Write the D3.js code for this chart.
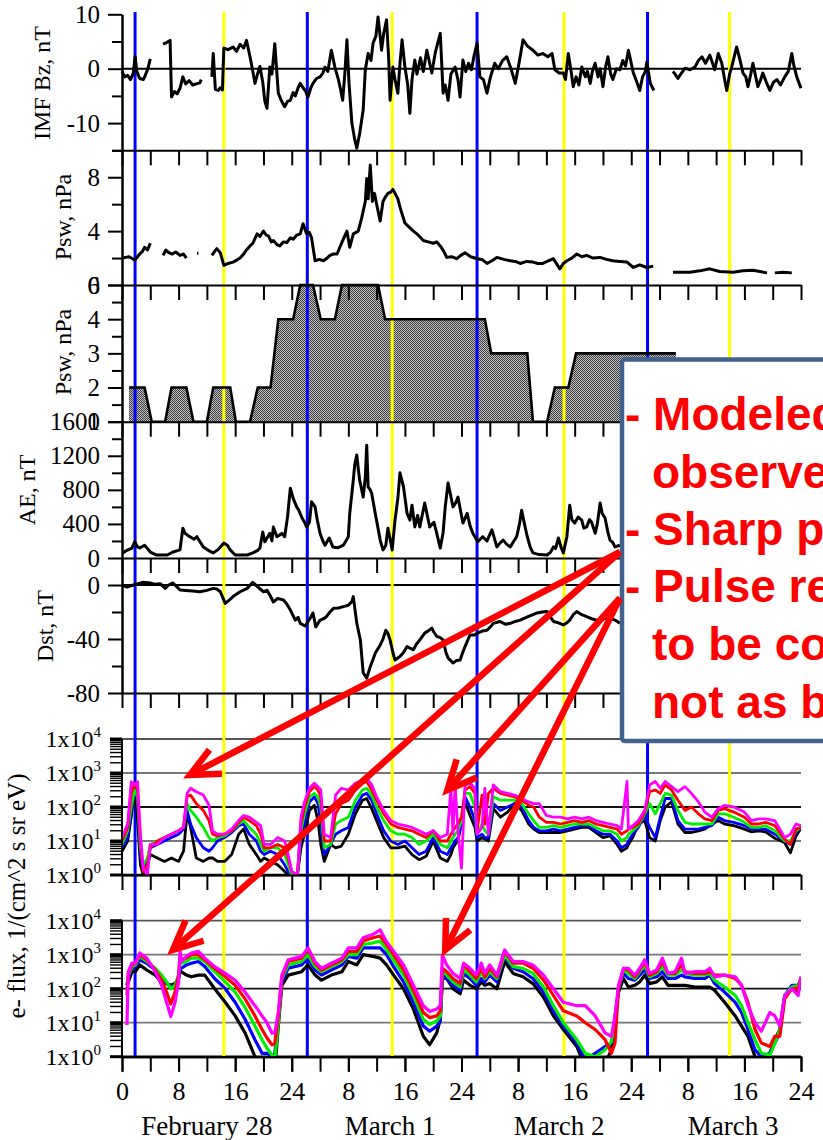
<!DOCTYPE html>
<html>
<head>
<meta charset="utf-8">
<script src="https://cdn.jsdelivr.net/npm/d3@7"></script>
<style>
  body { margin: 0; background: #fff; }
  svg { display: block; }
  text { font-family: "Liberation Serif", "Times New Roman", serif; fill: #000; }
  .axis text { font-size: 25px; font-family: "Liberation Serif", "Times New Roman", serif; }
  .axis path, .axis line { stroke: #000; stroke-width: 2; }
  .note { font-family: "Liberation Sans", Arial, sans-serif; font-weight: bold; font-size: 46px; fill: #ff0000; }
</style>
</head>
<body>
<svg id="chart" width="823" height="1140"></svg>
<script>
// ---- data ----
// hours from Feb 28 00 UT
const blueHours = [1.85, 26.2, 50.2, 74.3];
const yellowHours = [14.4, 38.2, 62.5, 85.9];
const dayLabels = ["February 28", "March 1", "March 2", "March 3"];
const dayLabelHours = [12, 37.9, 61.8, 86.4];

// IMF Bz, nT  (null = data gap)
const bz = [
  [0,-0.5],[0.4,-1.5],[0.8,-1.2],[1.2,-2],[1.6,-0.8],[1.85,2.2],[2.1,-0.5],[2.5,-1.8],[3,-2],[3.3,-1.2],[3.7,0.2],[4.0,1.8],
  null,
  [5.8,4.5],[6.3,4.8],[6.8,5.2],[7.0,-5.2],[7.4,-4.2],[7.8,-4.6],[8.2,-3.6],[8.6,-1.5],[9.0,-2.8],[9.5,-2.2],[10,-3],[10.5,-2.8],[11,-2.6],[11.2,-2],
  null,
  [12.7,-1.5],[12.9,2.8],[13.2,-3.8],[13.6,-4],[13.9,-3.5],[14.2,-3.9],[14.4,3.8],[15,3.5],[15.7,4],[16.2,3.2],[16.7,4.5],[17.2,3.8],[17.6,5.2],
  [18.1,2.2],[18.5,-0.5],[18.8,-2.7],[19.2,-0.8],[19.5,0.4],[19.9,-2.5],[20.2,-6],[20.5,-7.3],[20.9,0.3],[21.2,-1],[21.6,4.6],[22.1,-4.5],
  [22.5,-5.8],[23,-7],[23.4,-6],[23.8,-5.8],[24.2,-4.4],[24.5,-5],[24.9,-3.5],[25.2,-2.7],[25.6,-3.5],[25.9,-4],[26.3,-5.2],[26.7,-3.5],
  [27,-2.7],[27.5,-1.8],[28,-1.5],[28.4,-0.8],[28.7,0.3],[29.1,-0.5],[29.6,3.4],[30.1,0.3],[30.6,-2],[30.9,-3.8],[31.2,-5.8],[31.5,-1],
  [31.8,5.3],[32.1,-2.7],[32.5,-10],[32.9,-13],[33.2,-14.6],[33.6,-11.9],[34.1,-7.6],[34.4,-0.2],[34.8,2.8],[35.2,1.5],[35.5,4.7],[35.9,6],
  [36.2,9.5],[36.5,6],[36.7,3.4],[37.0,6.5],[37.4,9],[37.7,2],[37.9,-5.8],[38.3,0.3],[38.6,-2],[39,-4.5],[39.3,1],[39.6,5.3],[40,0.3],
  [40.4,-3],[40.7,-8.2],[41.0,-2],[41.4,1.6],[41.7,-1],[42.2,2],[42.6,-0.5],[43.1,3.4],[43.5,1],[43.8,-0.8],[44.3,3],[44.7,5],[45,6.5],
  [45.4,-4.5],[45.7,-3],[46.1,-5.8],[46.5,-1],[47.1,0.3],[47.5,-2],[47.8,-5.2],[48.2,1.6],[48.6,-0.5],[49,1],[49.4,-0.2],[49.8,2.5],
  [50.2,4.7],[50.6,-1.5],[51.1,-2],[51.6,-4.5],[52.1,-1.5],[52.7,1],[53.2,0],[53.8,1.5],[54.4,2.2],[55,0],[55.6,-2.7],[56.2,1.5],
  [56.7,5.3],[57.3,4.2],[58.1,3.4],[58.8,2.5],[59.5,2.8],[60.2,2.2],[60.8,2.8],[61.2,-0.2],[61.8,-0.8],[62.4,-0.8],[62.7,-2],[63.1,2.8],
  [63.5,-0.5],[63.8,-3.3],[64.2,-1.5],[64.6,-3],[65,0.3],[65.5,-1.5],[65.8,-0.5],[66.2,-2.7],[66.5,-0.5],[66.9,1],[67.3,-1.5],[67.6,0],
  [68,-3.3],[68.4,0.5],[68.7,2.2],[69.1,-1],[69.4,-2],[69.9,0],[70.4,-0.2],[70.8,1.5],[71.2,0.5],[71.6,3.4],[72,1],[72.3,-0.8],
  [72.8,-2.5],[73.2,-4],[73.6,-1.5],[74.0,-0.5],[74.2,1.2],[74.7,-2.7],[75.2,-4],
  null,
  [77.9,-0.5],[78.3,-1.2],[78.6,-1.8],[79.1,-0.8],[79.6,0.1],[80.3,-0.2],[81,0.3],[81.5,1.5],[82,2.2],[82.5,1],[83.1,2.5],[83.5,1],
  [83.8,-0.2],[84.3,2.8],[84.8,1],[85.2,-2],[85.5,-4],[85.9,-1],[86.2,0.3],[86.9,4],[87.3,2],[87.8,-0.8],[88.2,-1.5],[88.5,-3.3],
  [88.9,-1],[89.2,1],[89.6,-1.5],[89.9,-3.3],[90.3,-2],[90.6,-0.8],[91.1,-2.5],[91.6,-4],[92.1,-2.5],[92.6,-2],[93.1,-3],[93.7,-1.5],
  [94.2,-0.5],[94.7,2.8],[95,0.5],[95.4,-1.5],[96,-3.6]
];

// Psw, nPa (observed)
const psw = [
  [0,2.0],[0.5,2.05],[1,2.1],[1.5,1.95],[1.8,1.85],[2.2,2.1],[2.5,2.3],[2.9,2.5],[3.2,2.8],[3.6,2.6],[4,3.1],
  null,
  [5.8,2.2],[6.2,2.6],[6.6,2.4],[7.1,2.3],[7.6,2.45],[8.2,2.2],[8.7,2.3],[9.1,2.0],
  null,
  [10.6,2.35],[10.8,2.35],
  null,
  [12.7,2.2],[13.1,2.5],[13.4,2.7],[13.9,2.4],[14.4,1.45],[15,1.6],[15.7,1.7],[16.2,1.85],[16.7,2.0],[17.2,2.3],[17.6,2.6],[18.1,2.9],
  [18.5,3.1],[19.1,3.8],[19.5,3.6],[20,4.0],[20.4,3.7],[20.7,3.65],[21.1,3.2],[21.4,3.3],[21.9,3.0],[22.3,2.9],[22.8,3.2],[23.3,3.15],
  [23.8,3.5],[24.2,3.4],[24.7,3.7],[25.2,3.8],[25.6,4.55],[26.1,3.8],[26.5,3.9],[26.8,3.5],[27.3,1.8],[27.9,1.9],[28.5,1.8],[29,2.0],
  [29.4,2.2],[29.9,2.3],[30.4,2.3],[30.8,2.8],[31.2,3.3],[31.8,4.0],[32.2,2.8],[32.7,3.8],[33.4,4.0],[33.9,5.0],[34.4,6.2],[34.6,7.9],
  [34.8,6.4],[35.1,8.9],[35.4,6.2],[35.7,6.8],[36,6.0],[36.5,4.75],[36.9,6.2],[37.2,6.5],[37.6,6.8],[38,6.9],[38.3,7.1],[39,6.4],
  [39.4,5.6],[40,4.6],[40.6,4.3],[41.2,4.0],[41.9,3.7],[42.6,3.3],[43.3,3.2],[44,3.1],[44.5,3.2],[45,2.9],[45.5,2.5],[45.9,2.05],
  [46.6,2.1],[47.3,1.95],[47.9,2.2],[48.5,2.4],[49.3,2.1],[50.2,1.95],[50.9,1.9],[51.6,1.6],[52.3,1.8],[53,2.05],[54,1.9],[54.9,1.8],
  [55.6,1.75],[56.3,1.6],[57.2,1.75],[58.1,1.7],[58.8,1.6],[59.5,1.6],[60.3,1.8],[61,1.95],[61.9,1.2],[62.4,1.6],[62.9,1.8],[63.6,2.0],
  [64.3,2.3],[65,2.1],[65.7,2.2],[66.6,2.0],[67.6,2.05],[68.5,1.9],[69.4,1.8],[70.4,1.75],[71.4,1.7],[72.3,1.3],[73.2,1.5],[74.2,1.3],[75.1,1.4],
  null,
  [77.9,0.95],[79,0.95],[80.3,0.95],[81.7,1.05],[83.1,1.2],[84.5,1.0],[86.4,0.95],[87.8,1.05],[89.2,1.1],[90.2,1.0],[91.2,0.9],
  null,
  [92.3,0.9],[93.5,0.95],[94.7,0.9]
];

// Psw step input of the model: [hour, level]
const pswModel = [
  [1.0,2],[3.2,2],[4.2,1],[6.1,1],[7.0,2],[9.1,2],[10.1,1],[12,1],[12.9,2],[15.3,2],[16.1,1],[18.1,1],[19.2,2],[21,2],
  [22.1,4],[24.2,4],[25.2,5],[27,5],[28.1,4],[30.1,4],[31.1,5],[36.2,5],[37.2,4],[51.3,4],[52.2,3],[57.3,3],[58.1,1],
  [60.1,1],[61.2,2],[63.1,2],[64.2,3],[78.3,3]
];
const pswModelTicks = [1, 2, 3, 4, 5];
const pswModelTickText = ["1", "2", "3", "4", "6"];

// AE, nT
const ae = [
  [0.1,60],[0.7,90],[1.4,117],[1.8,190],[2.2,130],[2.5,117],[3.2,150],[3.6,110],[4,70],[4.9,35],[5.6,35],[6.4,35],[7.2,70],[8.2,95],
  [8.6,350],[8.9,290],[9.4,260],[9.9,235],[10.2,220],[10.6,250],[11.1,180],[11.5,130],[12.2,90],[12.9,60],[13.6,100],[14.4,175],
  [14.9,150],[15.3,95],[16,35],[16.8,35],[17.7,35],[18.5,60],[19.2,90],[19.5,117],[19.9,305],[20.2,190],[20.5,235],[20.9,290],
  [21.2,200],[21.4,365],[21.9,250],[22.3,270],[22.6,290],[23,250],[23.4,480],[23.8,820],[24,760],[24.2,700],[24.7,600],[25,560],
  [25.4,480],[25.8,420],[26.1,365],[26.5,420],[26.8,660],[27.3,600],[27.6,450],[28,290],[28.4,200],[28.7,150],[29.3,235],[29.8,130],
  [30.5,120],[31.3,150],[32,250],[32.2,525],[32.7,915],[32.9,1090],[33.2,1210],[33.4,1050],[33.6,915],[34.1,715],[34.4,950],
  [34.6,1325],[34.8,835],[35.1,800],[35.3,760],[35.8,525],[36.2,350],[36.5,210],[36.9,95],[37.3,150],[37.6,350],[38.2,95],[38.6,445],
  [39,700],[39.3,1000],[39.8,835],[40.3,525],[40.7,445],[41,620],[41.4,365],[41.8,500],[42.1,365],[42.8,645],[43.5,365],[44.1,420],
  [44.5,290],[45,117],[45.4,300],[45.7,600],[46.1,880],[46.8,600],[47.2,650],[47.5,715],[48.2,410],[48.8,525],[49.2,380],[49.6,290],
  [50.3,190],[51,250],[51.6,200],[52.3,330],[53,130],[53.5,180],[53.9,210],[54.4,160],[54.9,130],[55.4,200],[55.8,250],[56.2,400],
  [56.5,560],[56.9,400],[57.3,250],[57.7,130],[58.1,60],[59,40],[60.1,35],[60.6,70],[61,130],[61.3,110],[61.7,235],[62.1,120],
  [62.4,60],[62.9,250],[63.3,620],[63.6,450],[64,410],[64.5,480],[65,445],[65.3,350],[65.7,365],[66.1,450],[66.4,420],[66.9,290],
  [67.2,400],[67.6,645],[67.9,520],[68.3,470],[68.7,300],[69,210],[69.4,180],[69.7,130],[70.4,150]
];

// Dst, nT
const dst = [
  [0,0],[0.7,-1.5],[1.6,0],[2.3,1],[3,2],[4,1.5],[4.7,0.5],[5.4,1],[6.1,-2.5],[6.6,0],[7.2,1.5],[7.7,-1],[8.2,-3.7],[9,-4],[10,-4.5],
  [11,-5],[12,-4],[12.9,-2.5],[13.4,-3],[13.9,-5],[14.6,-13.6],[15.2,-11],[15.7,-8.6],[16.7,-5],[17.7,-2.5],[18.5,2],[19.2,-1.5],
  [20,-5],[20.5,-4],[20.9,-7.4],[21.4,-12.6],[22,-10],[22.8,-11],[23.3,-14],[23.8,-18.5],[24.5,-26],[24.9,-24],[25.2,-28.4],
  [25.9,-30.4],[26.3,-27],[26.6,-24.7],[27,-20.7],[27.4,-31],[28,-26],[28.5,-25],[28.9,-23.5],[29.4,-20],[29.9,-17.3],[30.6,-17],
  [31.3,-16],[32,-15],[32.5,-12.3],[32.7,-8.6],[33.2,-28.4],[33.7,-40.7],[34.1,-65],[34.6,-69],[35.1,-60.5],[35.5,-55],[35.8,-50.6],
  [36.2,-47],[36.5,-44.6],[36.9,-40],[37.3,-33.5],[37.6,-36],[37.9,-40.7],[38.3,-50],[38.6,-55.6],[39.3,-53],[39.8,-50],[40.3,-45.6],
  [40.8,-47],[41.2,-48],[41.6,-44],[42.1,-40.7],[42.8,-35.6],[43.3,-34],[43.8,-31.9],[44.1,-35],[44.5,-38],[45,-39],[45.4,-40.7],
  [45.8,-50],[46.1,-54],[46.8,-57.8],[47.3,-56],[47.8,-55.6],[48.1,-51],[48.5,-45.6],[49.2,-37],[49.8,-37],[50.3,-35.6],[51,-34],
  [51.6,-33.5],[52.1,-31],[52.5,-28.4],[53.4,-27],[54.2,-29],[54.9,-28.4],[55.6,-27],[56.3,-26],[57.4,-23.5],[58.1,-22],[58.7,-20.7],
  [59.4,-20],[60.1,-19.7],[60.6,-24],[61,-27],[61.7,-28],[62.4,-29.6],[62.9,-28],[63.3,-26],[63.8,-22],[64.3,-19.7],[65,-22],
  [65.7,-23.5],[66.4,-25],[67.1,-26],[67.8,-25],[68.6,-24.7],[69.2,-25],[69.7,-26],[70.4,-28.4]
];

// e- flux, observed (upper panel), log10 values
const flux1Hours = [
  0,0.8,1.3,1.8,2.2,2.6,3,3.6,4,5, 6,7,8,8.7,9.2,9.7,10.5,11.5,12.3,12.8,
  13.5,14.5,15.5,16.5,17.2,18,19,19.6,20.1,21, 22,23,23.5,24,24.8,25.3,25.8,26.5,27.2,27.7,
  28.1,28.6,29.5,30.2,31,32,33,34,34.6,35.3, 36,37,38,39,40,41,42,43,44,45,
  46,46.5,46.8,47.1,47.5,48,48.5,49.2,49.9,50.2, 50.9,51.3,51.8,52.5,53.5,54.5,55.5,56.5,57.5,58.2,
  59,60,61,62,63,64,65,66,67,68, 69,70,70.6,71.4,71.6,72.2,73,73.9,74.6,75.4,
  76.1,76.8,77.7,78.6,79.6,80.5,81.5,82.4,83.4,84.3, 85.2,86.5,88,89,90,91,92.3,93.7,94.5,95.3,96
];
const flux1Black = [
  0.7,1.0,1.7,2.5,1.6,0.3,0.0,0.3,0.6,0.5, 0.4,0.5,0.4,0.7,1.8,1.4,0.5,0.4,0.5,0.5,
  0.4,0.4,0.6,1.2,1.35,0.9,0.6,0.4,0.5,0.4, 0.3,0.1,0.0,0.0,0.0,0.8,1.2,1.9,2.05,1.6,
  0.9,0.4,0.9,0.8,0.85,1.2,1.8,2.2,2.25,1.95, 1.6,1.1,0.8,0.8,0.85,0.6,0.45,0.55,1.0,0.5,
  0.4,0.6,0.8,0.9,1.0,1.55,2.15,1.75,1.4,1.0, 1.1,1.05,1.0,1.95,1.7,1.85,2.1,1.9,1.5,1.35,
  1.25,1.25,1.25,1.25,1.3,1.35,1.4,1.4,1.25,1.1, 1.15,0.9,0.7,0.8,0.9,1.1,1.5,1.6,1.1,1.0,
  1.6,2.0,2.15,1.5,1.25,1.25,1.3,1.35,1.5,1.6, 1.5,1.45,1.35,1.27,1.3,1.27,1.08,0.95,0.65,1.15,1.38
];
const flux1Blue = [
  0.8,1.1,1.8,2.6,2.1,0.6,0.1,0.4,0.8,0.9, 1.0,1.1,1.2,1.35,1.9,1.5,1.1,0.8,0.7,0.8,
  1.0,1.1,1.25,1.45,1.5,1.2,1.0,0.7,0.6,0.7, 0.6,0.3,0.1,0.0,0.0,1.0,1.5,2.15,2.3,2.1,
  1.5,0.6,0.9,1.2,1.3,1.4,2.0,2.35,2.4,2.2, 1.8,1.3,1.0,0.9,1.0,0.8,0.6,0.7,1.1,0.7,
  0.6,0.8,0.9,1.0,1.1,1.5,2.3,2.0,1.6,1.1, 1.2,1.1,1.1,2.1,1.9,2.0,2.1,2.0,1.6,1.4,
  1.3,1.3,1.35,1.3,1.35,1.4,1.45,1.45,1.3,1.2, 1.2,1.0,0.8,0.9,1.0,1.2,1.4,1.75,1.4,1.1,
  1.7,2.25,2.25,1.6,1.35,1.35,1.35,1.4,1.45,1.7, 1.6,1.55,1.45,1.35,1.35,1.35,1.2,1.0,0.9,1.25,1.4
];
const flux1Green = [
  0.9,1.3,2.0,2.5,2.3,0.8,0.3,0.5,0.9,1.0, 1.1,1.2,1.3,1.4,2.1,1.9,1.7,1.4,1.1,1.0,
  1.1,1.15,1.3,1.5,1.6,1.4,1.2,0.9,0.7,0.8, 0.8,0.6,0.3,0.0,0.0,1.3,1.8,2.3,2.4,2.3,
  2.0,0.8,0.9,1.5,1.6,1.7,2.2,2.5,2.55,2.35, 2.0,1.6,1.3,1.2,1.2,1.1,0.9,1.0,1.2,0.9,
  0.8,1.0,1.1,1.2,1.3,1.6,2.4,2.4,2.0,1.2, 1.5,1.3,1.2,2.3,2.2,2.2,2.2,2.1,1.8,1.6,
  1.4,1.4,1.45,1.4,1.45,1.5,1.5,1.5,1.4,1.3, 1.3,1.2,1.0,1.1,1.2,1.3,1.45,1.8,2.1,1.8,
  2.1,2.4,2.35,1.9,1.55,1.5,1.5,1.5,1.5,1.8, 1.8,1.7,1.55,1.4,1.4,1.45,1.3,1.0,1.0,1.3,1.4
];
const flux1Red = [
  1.0,1.4,2.4,2.7,2.5,1.0,0.1,0.3,0.8,1.0, 1.1,1.2,1.3,1.4,2.3,2.35,2.1,1.9,1.6,1.2,
  1.15,1.2,1.3,1.55,1.7,1.6,1.45,1.2,0.8,0.8, 0.9,0.8,0.5,0.1,0.0,1.5,2.0,2.45,2.6,2.5,
  2.3,1.0,1.0,1.8,2.1,2.2,2.5,2.7,2.75,2.5, 2.2,1.8,1.5,1.4,1.35,1.3,1.2,1.1,1.3,1.0,
  1.0,1.2,1.3,1.4,1.5,1.7,2.5,2.6,2.4,1.3, 2.35,1.5,2.4,2.55,2.4,2.35,2.3,2.2,2.05,2.0,
  1.7,1.55,1.55,1.5,1.55,1.6,1.55,1.6,1.5,1.45, 1.4,1.35,1.2,1.3,1.35,1.4,1.5,1.85,2.45,2.5,
  2.4,2.65,2.5,2.2,1.9,2.0,1.8,1.65,1.6,1.9, 1.95,1.85,1.7,1.5,1.5,1.55,1.45,1.05,0.9,1.35,1.4
];
const flux1Magenta = [
  1.1,1.5,2.74,2.65,2.74,1.2,0.2,0.0,0.9,0.9, 1.1,1.2,1.3,1.4,2.4,2.55,2.45,2.35,2.05,1.3,
  1.2,1.2,1.35,1.6,1.75,1.7,1.55,1.45,0.9,0.9, 1.1,1.0,0.6,0.1,0.0,1.7,2.15,2.55,2.7,2.6,
  2.5,1.2,1.1,2.35,2.55,2.5,2.7,2.8,2.85,2.65, 2.3,1.9,1.6,1.5,1.45,1.4,1.3,1.2,1.3,1.1,
  1.2,2.55,1.2,2.65,1.3,0.2,2.65,2.7,2.55,1.2, 1.4,2.55,1.2,2.65,2.45,2.4,2.35,2.25,2.15,2.1,
  2.1,1.75,1.7,1.7,1.65,1.7,1.65,1.7,1.6,1.55, 1.5,1.45,1.35,2.75,1.35,1.45,1.6,1.9,2.65,2.75,
  2.55,2.75,2.6,2.45,2.6,2.4,2.15,1.85,1.7,1.95, 2.05,2.0,1.85,1.6,1.65,1.65,1.6,1.1,1.2,1.5,1.45
];

// e- flux, modeled (lower panel), log10 values
const flux2Hours = [
  0.7,0.9,1.4,1.9,2.5,3.5,4.7,5.6,6.3,6.9, 7.5,8.0,8.2,8.4,9.1,9.8,10.8,11.7,13.1,14.6,
  16,17.4,18.8,19.8,20.5,21.2,21.6,22.1,22.6,23.5, 25.4,26.3,27.3,28.2,29.6,31.1,32,33.2,34.1,35.5,
  36.5,37.4,38.4,39.8,41.2,42.6,43.5,44.5,45,45.3, 45.9,46.8,47.8,48.3,49.2,50.1,50.8,51.3,52,53,
  54.1,55.3,56.7,58.1,59.6,61,62.4,64.3,65.5,66.9, 68.3,69.2,69.7,70.2,70.9,71.6,72.5,73.2,73.9,74.6,
  75.6,76.4,77.2,78.2,79.1,79.6,81,82.4,83.1,83.8, 85.2,86.7,87.6,88.5,89.5,90.4,91.6,92.3,93,93.7,
  94.7,95.6,96
];
const flux2Black = [
  2.1,2.2,2.5,2.5,2.7,2.55,2.4,2.2,2.15,2.1, 2.15,2.3,2.5,2.5,2.4,2.35,2.4,2.4,2.0,1.6,
  1.2,0.7,0.0,-0.3,-0.5,-0.5,-0.4,0.9,2.1,2.4, 2.5,2.7,2.4,2.25,2.4,2.5,2.8,2.7,3.0,2.95,
  2.9,2.7,2.4,2.0,1.4,0.6,0.35,0.7,1.1,2.3, 2.3,2.0,1.85,2.25,2.1,2.0,2.2,2.1,2.15,2.0,
  2.8,2.45,2.35,2.15,1.75,1.2,0.8,0.3,-0.3,-0.3, -0.2,0.2,1.2,1.9,2.3,2.05,2.1,2.2,2.4,2.15,
  2.2,2.35,2.1,2.1,2.1,2.1,2.05,2.05,2.05,1.95, 1.6,1.2,0.9,0.6,0.0,-0.2,0.1,0.5,0.8,1.8,
  2.0,1.9,2.3
];
const flux2Blue = [
  2.1,2.35,2.6,2.65,2.85,2.75,2.55,2.35,2.15,2.05, 2.1,2.3,2.6,2.6,2.7,2.75,2.8,2.65,2.3,2.0,
  1.6,1.1,0.5,0.1,0.1,0.0,0.1,1.1,2.2,2.6, 2.7,2.9,2.55,2.4,2.55,2.7,2.95,2.9,3.2,3.2,
  3.2,3.0,2.65,2.2,1.6,0.9,0.75,0.9,1.05,2.4, 2.3,2.1,1.95,2.45,2.3,2.1,2.3,2.2,2.4,2.2,
  2.95,2.6,2.5,2.3,1.9,1.35,0.9,0.4,-0.1,0.1, 0.3,0.4,1.0,2.0,2.45,2.3,2.25,2.4,2.55,2.3,
  2.35,2.5,2.3,2.3,2.4,2.35,2.3,2.3,2.4,2.15, 1.9,1.6,1.3,0.8,0.2,0.0,0.1,0.4,0.7,1.8,
  2.1,2.1,2.3
];
const flux2Green = [
  2.0,2.4,2.65,2.7,2.95,2.8,2.6,2.4,2.2,2.0, 2.1,2.4,2.75,2.75,2.8,2.9,2.9,2.8,2.5,2.2,
  1.9,1.45,0.9,0.5,0.25,0.05,-0.1,1.0,2.3,2.7, 2.8,3.0,2.65,2.5,2.65,2.8,3.0,3.0,3.3,3.35,
  3.4,3.15,2.85,2.4,1.8,1.1,0.95,1.05,1.2,2.5, 2.4,2.2,2.05,2.55,2.4,2.2,2.5,2.3,2.5,2.3,
  3.0,2.65,2.6,2.45,2.05,1.5,1.0,0.5,0.1,0.0, 0.2,0.45,1.0,2.0,2.55,2.45,2.3,2.5,2.7,2.35,
  2.45,2.65,2.4,2.4,2.55,2.45,2.4,2.4,2.45,2.25, 2.05,1.8,1.5,1.0,0.5,0.1,0.05,0.4,0.8,1.8,
  2.05,2.1,2.3
];
const flux2Red = [
  1.8,2.45,2.7,2.75,3.0,2.85,2.55,2.25,1.9,1.55, 1.9,2.4,2.9,2.85,2.9,3.0,3.0,2.85,2.6,2.35,
  2.1,1.7,1.2,0.8,0.55,0.35,0.4,1.2,2.35,2.8, 2.9,3.15,2.75,2.55,2.7,2.85,3.1,3.1,3.4,3.5,
  3.55,3.3,3.0,2.55,1.95,1.3,1.15,1.2,1.35,2.6, 2.5,2.3,2.15,2.7,2.5,2.3,2.6,2.35,2.6,2.35,
  3.1,2.75,2.75,2.6,2.25,1.8,1.35,1.2,1.0,0.8, 0.5,0.1,0.4,2.0,2.6,2.55,2.35,2.55,2.8,2.4,
  2.5,2.8,2.45,2.45,2.7,2.5,2.45,2.45,2.5,2.4, 2.4,2.3,2.1,1.6,0.8,0.4,0.3,0.6,0.6,1.7,
  2.0,2.0,2.35
];
const flux2Magenta = [
  0.93,2.5,2.75,2.75,3.05,2.9,2.5,2.1,1.6,1.18, 1.6,2.2,3.14,2.8,2.95,3.05,3.1,2.9,2.65,2.45,
  2.25,1.9,1.5,1.2,1.0,0.69,0.7,1.3,2.4,2.85, 2.95,3.2,2.8,2.6,2.75,2.9,3.2,3.2,3.5,3.6,
  3.73,3.38,3.1,2.7,2.1,1.5,1.33,1.4,1.5,2.99, 2.7,2.45,2.3,2.75,2.6,2.4,2.75,2.45,2.7,2.4,
  3.14,2.8,2.8,2.7,2.4,2.0,1.6,1.5,1.5,1.2, 0.7,0.6,1.2,2.1,2.6,2.6,2.4,2.6,2.85,2.45,
  2.55,2.9,2.45,2.5,2.9,2.45,2.5,2.5,2.6,2.35, 2.4,2.35,2.1,1.5,1.0,0.75,1.3,1.2,0.9,1.8,
  2.0,1.8,2.35
];
const fluxColors = ["#000000", "#0000ff", "#00ee00", "#ff0000", "#ff00ff"];

const noteLines = [
  "- Modeled flux is close to the",
  "observed one",
  "- Sharp peaks are reproduced",
  "- Pulse response seems",
  "to be correct, but",
  "not as big as observed"
];

// ---- layout ----
const X0 = 122, X1 = 801;
const x = d3.scaleLinear().domain([0, 96]).range([X0, X1]);

const yBz  = d3.scaleLinear().domain([-15, 10]).range([150.3, 14.3]);
const yPsw = d3.scaleLinear().domain([0, 10]).range([285, 150.3]);
const yPsm = d3.scaleLinear().domain([1, 5]).range([421.7, 285]);
const yAe  = d3.scaleLinear().domain([0, 1600]).range([558, 421.7]);
const yDst = d3.scaleLinear().domain([-80, 20]).range([693, 558]);
const yF1  = d3.scaleLinear().domain([0, 4]).range([875, 739]);
const yF2  = d3.scaleLinear().domain([0, 4]).range([1056.7, 920.7]);

const svg = d3.select("#chart");
const defs = svg.append("defs");
const g = svg.append("g");

// dithered grey for the model Psw fill
const pat = defs.append("pattern").attr("id", "dither")
  .attr("width", 2).attr("height", 2).attr("patternUnits", "userSpaceOnUse");
pat.append("rect").attr("width", 2).attr("height", 2).attr("fill", "#c4c4c4");
pat.append("rect").attr("width", 1).attr("height", 1).attr("fill", "#3a3a3a");
pat.append("rect").attr("x", 1).attr("y", 1).attr("width", 1).attr("height", 1).attr("fill", "#3a3a3a");

[["clipF1", yF1], ["clipF2", yF2]].forEach(([id, ys]) => {
  defs.append("clipPath").attr("id", id).append("rect")
    .attr("x", X0).attr("y", ys.range()[1] - 3)
    .attr("width", X1 - X0).attr("height", ys.range()[0] - ys.range()[1] + 3);
});

// model Psw fill
g.append("path").datum(pswModel)
  .attr("d", d3.area().x(d => x(d[0])).y0(yPsm(1)).y1(d => yPsm(d[1])))
  .attr("fill", "url(#dither)").attr("shape-rendering", "crispEdges");

// zero lines
[[yBz, 0], [yDst, 0]].forEach(([ys, v]) => {
  g.append("line").attr("x1", X0).attr("x2", X1).attr("y1", ys(v)).attr("y2", ys(v))
    .attr("stroke", "#000").attr("stroke-width", 2);
});

// flux grid lines
const gridColors = ["#000", "#777", "#111", "#777", "#555"];
[yF1, yF2].forEach(ys => {
  d3.range(0, 5).forEach(e => {
    g.append("line").attr("x1", X0).attr("x2", X1).attr("y1", ys(e)).attr("y2", ys(e))
      .attr("stroke", gridColors[e]).attr("stroke-width", e === 0 ? 2.5 : 1.8);
  });
});

// event lines
[[blueHours, "#0000ff"], [yellowHours, "#ffff00"]].forEach(([hs, c]) => {
  g.selectAll(null).data(hs).enter().append("line")
    .attr("x1", d => x(d)).attr("x2", d => x(d))
    .attr("y1", 12).attr("y2", yF2(0))
    .attr("stroke", c).attr("stroke-width", 3);
});

// data lines
const lineOf = ys => d3.line().defined(d => d !== null).x(d => x(d[0])).y(d => ys(d[1]));
[[bz, yBz], [psw, yPsw], [ae, yAe], [dst, yDst]].forEach(([data, ys]) => {
  g.append("path").datum(data).attr("d", lineOf(ys))
    .attr("fill", "none").attr("stroke", "#000").attr("stroke-width", 3)
    .attr("stroke-linejoin", "round");
});
g.append("path").datum(pswModel).attr("d", lineOf(yPsm))
  .attr("fill", "none").attr("stroke", "#000").attr("stroke-width", 2.6);

function drawFlux(hours, series, ys, clipId, width) {
  const layer = g.append("g").attr("clip-path", `url(#${clipId})`);
  series.forEach((vals, i) => {
    const pts = hours.map((h, j) => [h, vals[j]]);
    layer.append("path").datum(pts).attr("d", lineOf(ys))
      .attr("fill", "none").attr("stroke", fluxColors[i]).attr("stroke-width", width)
      .attr("stroke-linejoin", "round");
  });
}
drawFlux(flux1Hours, [flux1Black, flux1Blue, flux1Green, flux1Red, flux1Magenta], yF1, "clipF1", 2.8);
drawFlux(flux2Hours, [flux2Black, flux2Blue, flux2Green, flux2Red, flux2Magenta], yF2, "clipF2", 3.2);

// ---- axes ----
const plain = d => String(d);
function leftAxis(ys, major, minor, fmt) {
  if (minor.length) {
    g.append("g").attr("class", "axis").attr("transform", `translate(${X0},0)`)
      .call(d3.axisLeft(ys).tickValues(minor).tickSize(10).tickSizeOuter(0).tickFormat(""));
  }
  g.append("g").attr("class", "axis").attr("transform", `translate(${X0},0)`)
    .call(d3.axisLeft(ys).tickValues(major).tickSize(14).tickSizeOuter(0).tickPadding(8).tickFormat(fmt || plain));
}
leftAxis(yBz, [-10, 0, 10], [-15, -5, 5]);
leftAxis(yPsw, [0, 4, 8], [2, 6, 10]);
leftAxis(yPsm, pswModelTicks, [1.5, 2.5, 3.5, 4.5], (d, i) => pswModelTickText[i]);
leftAxis(yAe, [0, 400, 800, 1200, 1600], [200, 600, 1000, 1400]);
leftAxis(yDst, [-80, -40, 0], [-60, -20]);

// flux axes (log decades)
[yF1, yF2].forEach(ys => {
  const ax = g.append("g");
  ax.append("line").attr("x1", X0).attr("x2", X0).attr("y1", ys(0)).attr("y2", ys(4))
    .attr("stroke", "#000").attr("stroke-width", 2);
  d3.range(0, 4).forEach(e => {
    d3.range(2, 10).forEach(k => {
      const v = e + Math.log10(k);
      ax.append("line").attr("x1", X0 - 12).attr("x2", X0).attr("y1", ys(v)).attr("y2", ys(v))
        .attr("stroke", "#000").attr("stroke-width", 1.4);
    });
  });
  d3.range(0, 5).forEach(e => {
    ax.append("line").attr("x1", X0 - 12).attr("x2", X0).attr("y1", ys(e)).attr("y2", ys(e))
      .attr("stroke", "#000").attr("stroke-width", 3);
    const t = ax.append("text").attr("x", 101).attr("y", ys(e) + 8)
      .attr("text-anchor", "end").attr("font-size", 24).text("1x10");
    t.append("tspan").attr("dy", -10).attr("font-size", 15).text(e);
  });
});

// bottom borders with hour ticks
const hourTicks = d3.range(0, 97, 4);
[150.3, 285, 421.7, 558, 693, 875, 1056.7].forEach(yb => {
  g.append("g").attr("class", "axis").attr("transform", `translate(0,${yb})`)
    .call(d3.axisBottom(x).tickValues(hourTicks).tickSize(15).tickSizeOuter(0).tickFormat(""));
});
g.append("g").attr("class", "axis xlab").attr("transform", `translate(0,1056.7)`)
  .call(d3.axisBottom(x).tickValues(d3.range(0, 97, 8)).tickSize(15).tickSizeOuter(0).tickPadding(10)
    .tickFormat(d => d === 0 ? "0" : String(d % 24 === 0 ? 24 : d % 24)))
  .selectAll("text").style("font-size", "26px");

g.selectAll(null).data(dayLabels).enter().append("text")
  .attr("x", (d, i) => x(dayLabelHours[i])).attr("y", 1135)
  .attr("text-anchor", "middle").attr("font-size", 27).text(d => d);

// rotated axis titles
const titles = [
  ["IMF Bz, nT", 50, 83, 24], ["Psw, nPa", 71, 217, 24], ["Psw, nPa", 71, 352, 24],
  ["AE, nT", 35, 490, 24], ["Dst, nT", 53, 626, 24], ["e- flux, 1/(cm^2 s sr eV)", 25, 896, 25]
];
titles.forEach(([t, bx, cy, fs]) => {
  g.append("text").attr("transform", `translate(${bx},${cy}) rotate(-90)`)
    .attr("text-anchor", "middle").attr("font-size", fs).text(t);
});

// ---- callout ----
const box = { x: 622, y: 359.5, w: 300, h: 381.5 };
g.append("rect").attr("x", box.x).attr("y", box.y).attr("width", box.w).attr("height", box.h)
  .attr("rx", 3).attr("fill", "#fff").attr("stroke", "#41618f").attr("stroke-width", 4.5);

const noteX = [625, 652, 625, 625, 652, 652];
const noteY = [430, 488, 545, 602, 660, 718];
noteLines.forEach((t, i) => {
  g.append("text").attr("class", "note").attr("x", noteX[i]).attr("y", noteY[i])
    .attr("xml:space", "preserve").text(t);
});

// arrows from the callout to the flux features
const arrows = [
  { from: [box.x - 2, 552], ys: yF1, h: 9.6, v: 2.94 },
  { from: [box.x - 2, 552], ys: yF2, h: 7.2, v: 3.14 },
  { from: [box.x - 2, 598], ys: yF1, h: 46.0, v: 2.5 },
  { from: [box.x - 2, 598], ys: yF2, h: 45.7, v: 3.14 }
];
arrows.forEach(a => {
  const tx = x(a.h), ty = a.ys(a.v);
  const dx = a.from[0] - tx, dy = a.from[1] - ty, len = Math.hypot(dx, dy);
  const ux = dx / len, uy = dy / len, L = 32, ang = 25 * Math.PI / 180;
  const arm = s => [tx + L * (ux * Math.cos(s * ang) - uy * Math.sin(s * ang)),
                    ty + L * (ux * Math.sin(s * ang) + uy * Math.cos(s * ang))];
  const p1 = arm(1), p2 = arm(-1);
  g.append("line").attr("x1", a.from[0]).attr("y1", a.from[1]).attr("x2", tx + ux * 3).attr("y2", ty + uy * 3)
    .attr("stroke", "#ff0000").attr("stroke-width", 6.5);
  g.append("path").attr("d", `M${p1[0]},${p1[1]}L${tx},${ty}L${p2[0]},${p2[1]}`)
    .attr("fill", "none").attr("stroke", "#ff0000").attr("stroke-width", 6.5)
    .attr("stroke-linejoin", "miter");
});
</script>
</body>
</html>
